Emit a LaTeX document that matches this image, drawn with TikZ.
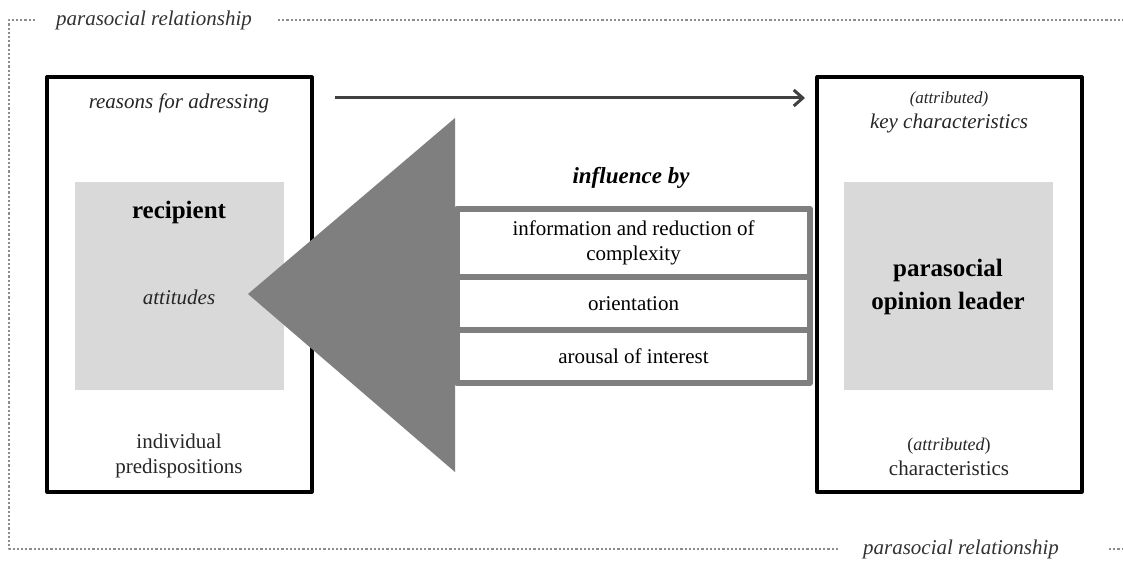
\documentclass[tikz,border=0pt]{standalone}
\usepackage{fontspec}
\setmainfont{Liberation Serif}
\usetikzlibrary{arrows.meta}
\definecolor{framegray}{HTML}{8C8C8C}
\definecolor{coregray}{HTML}{D9D9D9}
\definecolor{wedgegray}{HTML}{7F7F7F}
\definecolor{arrowgray}{HTML}{404040}
\newcommand{\bodysize}{\fontsize{21}{25}\selectfont}
\begin{document}
\begin{tikzpicture}[x=1pt,y=-1pt,line join=round,>={Straight Barb[length=9pt,width=16pt]},
  frame/.style={draw=framegray,line width=2.2pt,dash pattern=on 2.2pt off 2pt},
  framelabel/.style={font=\bodysize\itshape,text=black!80,inner sep=0pt},
  partbox/.style={draw=black,line width=3.2pt,minimum width=265pt,minimum height=415pt},
  corebox/.style={fill=coregray,minimum width=209pt,minimum height=208pt},
  plain/.style={align=center,font=\bodysize,text=black!85,inner sep=0pt},
  factor/.style={draw=wedgegray,line width=6pt,fill=white,minimum width=353pt,align=center,font=\bodysize,inner sep=0pt}]
\useasboundingbox (0,0) rectangle (1123,561);
\fill[white] (0,0) rectangle (1123,561);

% dotted frame
\draw[frame] (35,20)--(9,20)--(9,549)--(838,549);
\draw[frame] (278,20)--(1123,20);
\draw[frame] (1109,549)--(1123,549);
\node[framelabel] (reltop) at (154,20) {parasocial relationship};
\node[framelabel] (relbot) at (961,549) {parasocial relationship};

% recipient side
\node[partbox] (recbox) at (179.5,284.5) {};
\node[corebox] (reccore) at (179,286) {};
\node[plain,font=\bodysize\itshape] (reasons) at (179,103) {reasons for adressing};
\node[plain,font=\fontsize{25}{29}\selectfont\bfseries,text=black] (recipient) at (179,212) {recipient};
\node[plain,font=\bodysize\itshape] (attitudes) at (179,297) {attitudes};
\node[plain] (predisp) at (179,456) {individual\\predispositions};

% opinion leader side
\node[partbox] (oplbox) at (949.5,284.5) {};
\node[corebox] (oplcore) at (948,286) {};
\node[plain] (keychar) at (949,112) {{\fontsize{17}{22}\selectfont\itshape (attributed)}\\{\itshape key characteristics}};
\node[plain,font=\fontsize{25}{33}\selectfont\bfseries,text=black] (opl) at (948,287) {parasocial\\opinion leader};
\node[plain] (attrchar) at (949,457) {{\fontsize{18}{22}\selectfont(\textit{attributed})}\\characteristics};

% addressing
\coordinate (addS) at (335,98);
\coordinate (addE) at (805,98);
\draw[->,draw=arrowgray,line width=3pt] (addS)--(addE);

% influence
\fill[wedgegray] (248,294)--(455,118)--(455,472)--cycle;
\node[plain,font=\fontsize{23}{27}\selectfont\bfseries\itshape,text=black] (infl) at (631,178) {influence by};
\node[factor,minimum height=68pt] (info) at (633.5,243) {information and reduction of\\complexity};
\node[factor,minimum height=53pt] (orient) at (633.5,303.5) {orientation};
\node[factor,minimum height=53pt] (arousal) at (633.5,356.5) {arousal of interest};
\end{tikzpicture}
\end{document}
